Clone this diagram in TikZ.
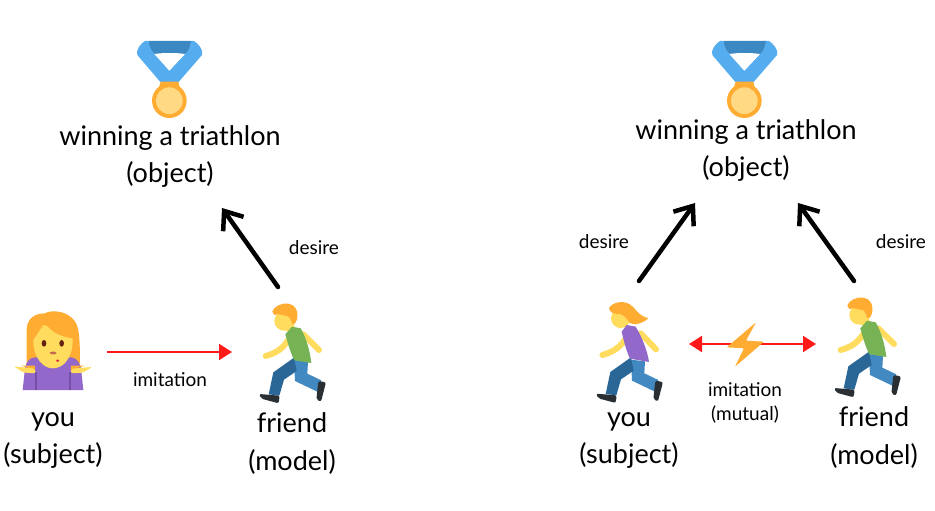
\documentclass[tikz,border=0pt]{standalone}
\usepackage{fontspec}
\setmainfont{Lato}
\usepackage{xcolor}
\usetikzlibrary{arrows.meta, positioning}

\definecolor{medalblue}{HTML}{55ACEE}
\definecolor{medaldark}{HTML}{3B88C3}
\definecolor{amber}{HTML}{FFAC33}
\definecolor{medalgold}{HTML}{FFD983}
\definecolor{skin}{HTML}{FFDC5D}
\definecolor{shirtgreen}{HTML}{77B255}
\definecolor{shirtpurple}{HTML}{9268CA}
\definecolor{stripepurple}{HTML}{7450A8}
\definecolor{jeanlight}{HTML}{4289C1}
\definecolor{jeandark}{HTML}{2A6797}
\definecolor{shoedark}{HTML}{292F33}
\definecolor{eyebrown}{HTML}{662113}
\definecolor{nosebrown}{HTML}{C1694F}
\definecolor{mouthred}{HTML}{DD2E44}
\definecolor{arrowred}{HTML}{FF1A1A}

\newcommand{\runnerlegs}{%
    \fill[jeanlight] (132,195) -- (174,200) -- (172,236) -- (214,256) -- (206,292) -- (135,258) -- cycle;
    \fill[jeandark] (132,188) -- (140,228) -- (102,254) -- (88,302) -- (56,298) -- (70,232) -- cycle;
    \fill[shoedark, rounded corners=2pt] (205,258) -- (228,262) -- (213,320) -- (199,314) -- cycle;
    \fill[shoedark, rounded corners=2pt] (27,297) -- (89,302) -- (86,325) -- (34,311) -- cycle;
}

\begin{document}
\begin{tikzpicture}[
    x=1pt, y=-1pt,
    biglabel/.style={align=center, font=\fontsize{27}{37.5}\selectfont, inner sep=0pt},
    smalllabel/.style={align=center, font=\fontsize{19}{24}\selectfont, inner sep=0pt},
    desire/.style={-{Straight Barb[length=16pt, width=25pt, line width=4.5pt]}, line width=4.5pt, line cap=round},
    imitation/.style={-{Triangle[length=13pt, width=16pt]}, line width=2pt, draw=arrowred, color=arrowred},
    mutual/.style={{Triangle[length=13pt, width=16pt]}-{Triangle[length=13pt, width=16pt]}, line width=2pt, draw=arrowred, color=arrowred},
    limb/.style={draw=skin, line width=6pt, line cap=round, line join=round},
    medal/.pic={
        \fill[medaldark] (85,33) -- (213,33) .. controls (212,55) and (205,65) .. (195,75) -- (105,75) .. controls (95,65) and (87,55) .. (85,33) -- cycle;
        \fill[medalblue] (75,33) -- (85,33) .. controls (87,50) and (95,65) .. (105,72) -- (148,122) -- (195,72) .. controls (205,65) and (212,50) .. (213,33) -- (222,33) .. controls (235,40) and (252,62) .. (246,75) -- (175,157) -- (122,157) -- (52,75) .. controls (46,62) and (62,40) .. (75,33) -- cycle;
        \fill[white] (103,72) .. controls (130,68) and (170,68) .. (195,72) -- (148,122) -- cycle;
        \fill[amber] (122,155) -- (175,155) -- (180,175) -- (116,175) -- cycle;
        \fill[amber] (148,212) circle[radius=52];
        \fill[medalgold] (148,212) circle[radius=40];
    },
    runnerman/.pic={
        \draw[limb] (160,118) -- (207,165);
        \runnerlegs
        \draw[limb] (115,135) .. controls (95,165) and (75,175) .. (47,183);
        \fill[skin] (102,78) circle[radius=29];
        \fill[skin] (100,90) -- (130,80) -- (135,100) -- (110,110) -- cycle;
        \fill[shirtgreen] (106,118) -- (126,95) -- (152,100) .. controls (170,130) and (180,170) .. (184,204) -- (133,196) .. controls (122,175) and (115,150) .. (106,118) -- cycle;
        \fill[amber] (67,50) .. controls (70,36) and (95,22) .. (115,26) .. controls (135,28) and (146,48) .. (142,68) .. controls (140,80) and (134,90) .. (127,87) .. controls (125,77) and (120,70) .. (115,64) .. controls (100,62) and (85,54) .. (73,60) -- cycle;
    },
    runnerwoman/.pic={
        \draw[limb] (152,130) -- (198,178);
        \begin{scope}[shift={(-9,14)}]
            \runnerlegs
        \end{scope}
        \draw[limb] (106,148) .. controls (88,175) and (65,187) .. (37,195);
        \fill[skin] (92,85) circle[radius=29];
        \fill[shirtpurple] (95,125) -- (110,105) -- (137,110) .. controls (155,140) and (172,180) .. (177,216) -- (120,206) .. controls (110,185) and (103,160) .. (95,125) -- cycle;
        \fill[amber] (57,55) .. controls (65,38) and (95,30) .. (118,42) .. controls (135,50) and (140,75) .. (175,85) .. controls (160,100) and (130,108) .. (118,98) .. controls (112,85) and (100,75) .. (90,72) .. controls (78,72) and (60,72) .. (57,55) -- cycle;
    },
    shrugwoman/.pic={
        \fill[amber] (80,190) -- (80,90) .. controls (80,55) and (105,40) .. (135,40) .. controls (150,30) and (195,30) .. (220,58) .. controls (235,75) and (240,95) .. (240,190) -- cycle;
        \fill[shirtpurple] (68,270) -- (75,205) .. controls (78,185) and (90,172) .. (105,172) -- (215,172) .. controls (232,175) and (240,190) .. (243,205) -- (250,270) -- cycle;
        \fill[stripepurple] (105,215) -- (112,215) -- (112,270) -- (105,270) -- cycle;
        \fill[stripepurple] (207,215) -- (214,215) -- (214,270) -- (207,270) -- cycle;
        \fill[skin] (100,120) .. controls (100,175) and (130,205) .. (158,205) .. controls (190,205) and (218,175) .. (218,120) -- (218,100) -- (130,75) -- cycle;
        \fill[amber] (100,118) .. controls (105,95) and (120,85) .. (135,68) .. controls (155,100) and (190,112) .. (220,115) -- (225,70) -- (140,50) -- (100,80) -- cycle;
        \fill[eyebrown] (132,130) ellipse[x radius=7, y radius=10];
        \fill[eyebrown] (185,130) ellipse[x radius=7, y radius=10];
        \fill[nosebrown, rounded corners=2pt] (150,155) rectangle (169,163);
        \fill[mouthred] (173,182) ellipse[x radius=5, y radius=4];
        \fill[amber] (63,197) -- (105,197) -- (105,210) -- cycle;
        \fill[amber] (213,197) -- (255,197) -- (213,210) -- cycle;
        \fill[skin, rounded corners=2pt] (41,199) -- (105,206) -- (107,220) -- (72,218) -- cycle;
        \fill[skin, rounded corners=2pt] (277,201) -- (213,206) -- (213,220) -- (248,218) -- cycle;
    },
    bolt/.pic={
        \fill[amber, rounded corners=1pt] (228,37) -- (140,112) -- (192,115) -- (165,170) -- (252,95) -- (198,92) -- cycle;
    }
]

\useasboundingbox (0,0) rectangle (935,511);

% Left: one-way imitation
\pic[scale=1/3] at (120,30) {medal};
\node[biglabel] (objectL) at (170,156.5) {winning a triathlon\\(object)};
\pic[scale=1/3] at (0,300) {shrugwoman};
\node[biglabel] (youL) at (53,440.5) {you\\(subject)};
\pic[scale=1/3] at (250,295) {runnerman};
\node[biglabel] (friendL) at (292,443.5) {friend\\(model)};

\coordinate (imitL) at (107,352);
\coordinate (imitLend) at (232,352);
\coordinate (desLstart) at (278,287);
\coordinate (desLend) at (222,208);
\draw[imitation] (imitL) -- (imitLend);
\draw[desire] (desLstart) -- (desLend);
\node[smalllabel] (desireL) at (314,248) {desire};
\node[smalllabel] (imitLabel) at (170,379.5) {imitation};

% Right: mutual imitation
\pic[scale=1/3] at (695,30) {medal};
\node[biglabel] (objectR) at (746,150.5) {winning a triathlon\\(object)};
\pic[scale=1/3] at (590,290) {runnerwoman};
\node[biglabel] (youR) at (629,440.5) {you\\(subject)};
\pic[scale=1/3] at (825,289) {runnerman};
\node[biglabel] (friendR) at (874,437.5) {friend\\(model)};

\coordinate (imitRa) at (689,344);
\coordinate (imitRb) at (816,344);
\coordinate (desRa) at (639,281);
\coordinate (desRaend) at (695,203);
\coordinate (desRb) at (854,281);
\coordinate (desRbend) at (798,203);
\draw[mutual] (imitRa) -- (imitRb);
\pic[scale=1/3] at (680,310) {bolt};
\draw[desire] (desRa) -- (desRaend);
\draw[desire] (desRb) -- (desRbend);
\node[smalllabel] (desireRa) at (604,242) {desire};
\node[smalllabel] (desireRb) at (901,242) {desire};
\node[smalllabel] (imitRlabel) at (745,402.5) {imitation\\(mutual)};

\end{tikzpicture}
\end{document}
